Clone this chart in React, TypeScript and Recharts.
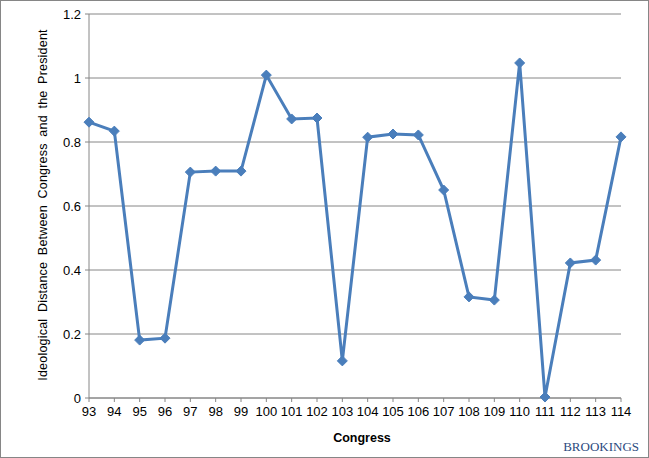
import { LineChart, Line, XAxis, YAxis, CartesianGrid } from 'recharts'

const congresses = [93, 94, 95, 96, 97, 98, 99, 100, 101, 102, 103, 104, 105, 106, 107, 108, 109, 110, 111, 112, 113, 114]
const distances = [0.862, 0.834, 0.181, 0.187, 0.706, 0.709, 0.709, 1.009, 0.872, 0.875, 0.116, 0.815, 0.825, 0.822, 0.65, 0.316, 0.306, 1.047, 0.003, 0.422, 0.431, 0.816]
const yTicks = [0, 0.2, 0.4, 0.6, 0.8, 1, 1.2]

const data = congresses.map((c, i) => ({ congress: c, distance: distances[i] }))

const BLUE = '#4a7ebb'
const GRID = '#868686'

const Diamond = (props: any) => {
  const { cx, cy, index } = props
  if (cx == null || cy == null) return null
  const r = 5
  return (
    <polygon
      key={`d-${index}`}
      points={`${cx},${cy - r} ${cx + r},${cy} ${cx},${cy + r} ${cx - r},${cy}`}
      fill={BLUE}
      stroke={BLUE}
      strokeWidth={1}
    />
  )
}

export default function App() {
  return (
    <div
      style={{
        position: 'absolute',
        left: 0,
        top: 0,
        width: 649,
        height: 458,
        border: `1px solid ${GRID}`,
        boxSizing: 'border-box',
        background: '#fff',
        fontFamily: '"Liberation Sans", Arial, sans-serif',
      }}
    >
      <LineChart width={647} height={456} data={data} margin={{ top: 13, right: 27, bottom: 0, left: 0 }}>
        <CartesianGrid vertical={false} stroke={GRID} strokeWidth={1} />
        <XAxis
          dataKey="congress"
          type="number"
          domain={[93, 114]}
          ticks={congresses}
          interval={0}
          stroke={GRID}
          tickSize={4}
          tick={{ fill: '#000', fontSize: 13 }}
          tickMargin={5}
          height={59}
        />
        <YAxis
          domain={[0, 1.2]}
          ticks={yTicks}
          interval={0}
          stroke={GRID}
          tickSize={4}
          tickMargin={4}
          width={88}
          tick={{ fill: '#000', fontSize: 13 }}
        />
        <Line
          dataKey="distance"
          stroke={BLUE}
          strokeWidth={3}
          dot={<Diamond />}
          activeDot={false}
          isAnimationActive={false}
        />
        <text
          x={42}
          y={204}
          transform="rotate(-90 42 204)"
          textAnchor="middle"
          dominantBaseline="central"
          fontSize={12.5}
          wordSpacing={3}
          letterSpacing={0.2}
          fill="#000"
        >
          Ideological Distance Between Congress and the President
        </text>
        <text x={361} y={437} textAnchor="middle" dominantBaseline="central" fontSize={12.5} fontWeight="bold" fill="#000">
          Congress
        </text>
        <text
          x={638}
          y={445}
          textAnchor="end"
          dominantBaseline="central"
          fontSize={13}
          fontFamily='"Liberation Serif", "Times New Roman", serif'
          fill="#2b4a7e"
        >
          BROOKINGS
        </text>
      </LineChart>
    </div>
  )
}
